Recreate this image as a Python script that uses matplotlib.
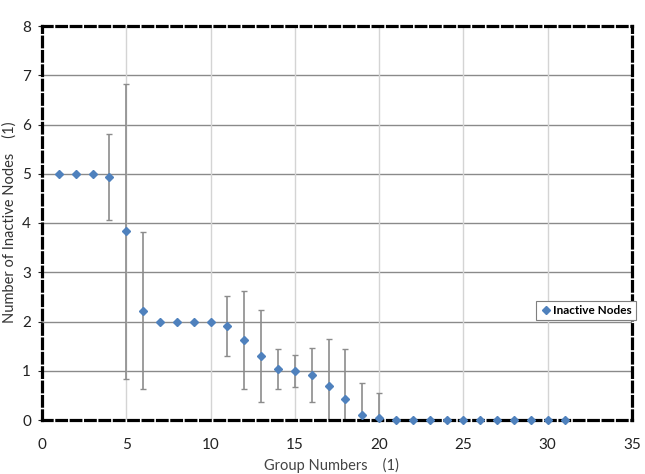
import matplotlib
matplotlib.use("Agg")
import matplotlib.pyplot as plt
import numpy as np

groups = list(range(1, 32))
inactive = [5.0, 5.0, 5.0, 4.94, 3.83, 2.22, 2.0, 2.0, 2.0, 2.0,
            1.90, 1.62, 1.30, 1.04, 0.99, 0.92, 0.70, 0.43, 0.10, 0.05,
            0, 0, 0, 0, 0, 0, 0, 0, 0, 0, 0]
errors = [0, 0, 0, 0.87, 3.0, 1.60, 0, 0, 0, 0,
          0.61, 1.0, 0.94, 0.41, 0.33, 0.55, 0.95, 1.01, 0.65, 0.49,
          0, 0, 0, 0, 0, 0, 0, 0, 0, 0, 0]
x_ticks = [0, 5, 10, 15, 20, 25, 30, 35]
y_ticks = [0, 1, 2, 3, 4, 5, 6, 7, 8]

plt.rcParams['font.family'] = ['Lato', 'DejaVu Sans']

fig = plt.figure(figsize=(6.45, 4.74), dpi=100)
ax = fig.add_axes([42/645, 1-420/474, (632-42)/645, (420-26)/474])

ax.set_xlim(0, 35)
ax.set_ylim(0, 8)
ax.set_xticks(x_ticks)
ax.set_yticks(y_ticks)

# grid
for yv in y_ticks[1:-1]:
    ax.axhline(yv, color='#8a8a8a', lw=1.0, zorder=1)
for xv in x_ticks[1:-1]:
    ax.axvline(xv, color='#d4d4d4', lw=1.0, zorder=1)

x = np.array(groups)
y = np.array(inactive)
e = np.array(errors)
mask = e > 0
ax.errorbar(x[mask], y[mask], yerr=e[mask], fmt='none', ecolor='#8c8c8c',
            elinewidth=1.2, capsize=2.2, capthick=1.0, zorder=2)
ax.plot(x, y, linestyle='none', marker='D', markersize=3.6,
        color='#4f81bd', label='Inactive Nodes', zorder=5, clip_on=False)

for s in ax.spines.values():
    s.set_linestyle((0, (3, 1.5)))
    s.set_linewidth(2.3)
    s.set_color('black')
    s.set_zorder(4)

ax.tick_params(axis='x', length=0, pad=13, labelsize=11, colors='#222222')
ax.tick_params(axis='y', length=3, direction='out', pad=5, labelsize=11,
               colors='#222222', width=0.8)

ax.set_xlabel('Group Numbers    (1)', fontsize=10.5, color='#444444')
ax.set_ylabel('Number of Inactive Nodes    (1)', fontsize=10.5, color='#333333')
ax.xaxis.set_label_coords((331-42)/590, (420-458)/394)
ax.yaxis.set_label_coords((17-42)/590, (420-222)/394)

leg = fig.legend(loc='upper right', bbox_to_anchor=(636/645, 1-301/474),
                 frameon=True, fancybox=False, edgecolor='#7f7f7f',
                 framealpha=1, borderpad=0.35, handletextpad=0.1,
                 handlelength=1.0, borderaxespad=0,
                 prop={'weight': 'bold', 'size': 8.5})
leg.get_frame().set_linewidth(0.8)

fig.savefig('out.png', dpi=100)
